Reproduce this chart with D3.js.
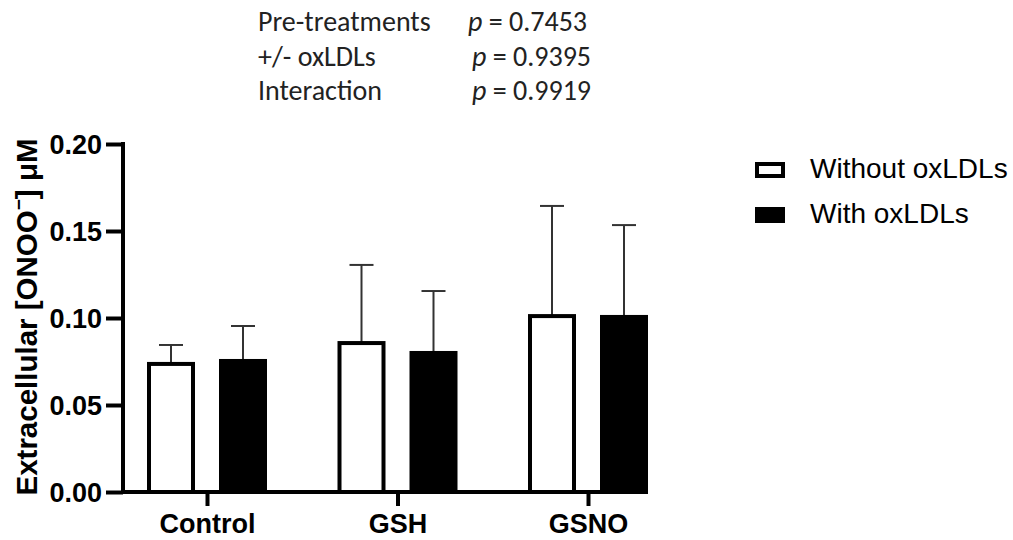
<!DOCTYPE html>
<html>
<head>
<meta charset="utf-8">
<script src="https://cdn.jsdelivr.net/npm/d3@7"></script>
<style>
  body { margin: 0; background: #fff; }
</style>
</head>
<body>
<div id="chart"></div>
<script>
const categories = ["Control", "GSH", "GSNO"]
const seriesNames = ["Without oxLDLs", "With oxLDLs"]
const withoutMeans = [0.0736, 0.0856, 0.1011]
const withoutErr = [0.0845, 0.1305, 0.1644]
const withMeans = [0.0753, 0.0799, 0.1006]
const withErr = [0.0954, 0.1155, 0.1534]
const yTicks = [0.00, 0.05, 0.10, 0.15, 0.20]
const stats = [
  {label: "Pre-treatments", p: "0.7453", px: 468},
  {label: "+/- oxLDLs", p: "0.9395", px: 472},
  {label: "Interaction", p: "0.9919", px: 472}
]

const width = 1013, height = 540
const arial = "Arial, 'Liberation Sans', sans-serif"
const calibri = "Carlito, Calibri, 'Open Sans', sans-serif"
const svg = d3.select("#chart").append("svg").attr("width", width).attr("height", height)

// plot area
const x0 = 123, x1 = 620, yTop = 144, yBot = 492
const y = d3.scaleLinear().domain([0, 0.20]).range([yBot, yTop])
const x = d3.scalePoint().domain(categories).range([207, 588])
const barW = 44, off = 36

const data = []
categories.forEach((c, i) => {
  data.push({cat: c, s: 0, v: withoutMeans[i], e: withoutErr[i]})
  data.push({cat: c, s: 1, v: withMeans[i], e: withErr[i]})
})

// error bars (drawn first so bars sit on top)
const eb = svg.append("g")
data.forEach(d => {
  const cx = x(d.cat) + (d.s === 0 ? -off : off)
  eb.append("line").attr("x1", cx).attr("x2", cx).attr("y1", y(d.v)).attr("y2", y(d.e))
    .attr("stroke", "#333").attr("stroke-width", 2)
  eb.append("line").attr("x1", cx - 12).attr("x2", cx + 12).attr("y1", y(d.e)).attr("y2", y(d.e))
    .attr("stroke", "#333").attr("stroke-width", 2)
})

// bars
svg.append("g").selectAll("rect").data(data).enter().append("rect")
  .attr("x", d => x(d.cat) + (d.s === 0 ? -off : off) - barW / 2)
  .attr("y", d => y(d.v))
  .attr("width", barW)
  .attr("height", d => yBot - y(d.v))
  .attr("fill", d => d.s === 0 ? "#fff" : "#000")
  .attr("stroke", "#000")
  .attr("stroke-width", 4)

// axes
const yAxis = d3.axisLeft(y).tickValues(yTicks).tickFormat(d3.format(".2f")).tickSize(17).tickPadding(4)
const yg = svg.append("g").attr("transform", `translate(${x0},0)`).call(yAxis)
yg.select(".domain").attr("d", `M0,${yTop - 2}V${yBot + 2}`).attr("stroke-width", 4)
yg.selectAll(".tick line").attr("stroke-width", 4)
yg.selectAll(".tick text").attr("font-size", 27).attr("font-weight", "bold").attr("fill", "#000")
  .attr("font-family", arial).attr("dy", "0.34em")

const xAxis = d3.axisBottom(x).tickSize(14).tickPadding(8)
const xg = svg.append("g").attr("transform", `translate(0,${yBot})`).call(xAxis)
xg.select(".domain").attr("d", `M${x0 - 2},0H${x1}`).attr("stroke-width", 4)
xg.selectAll(".tick line").attr("stroke-width", 4)
xg.selectAll(".tick text").attr("font-size", 27).attr("font-weight", "bold").attr("fill", "#000")
  .attr("font-family", arial)

// y title
const yt = svg.append("text")
  .attr("transform", `translate(37,317) rotate(-90)`)
  .attr("text-anchor", "middle")
  .attr("font-family", arial)
  .attr("font-size", 29.5).attr("font-weight", "bold")
yt.append("tspan").text("Extracellular [ONOO")
yt.append("tspan").attr("dy", -12).attr("font-size", 19).text("−")
yt.append("tspan").attr("dy", 12).text("] μM")

// legend
const lg = svg.append("g").attr("transform", "translate(757,0)")
seriesNames.forEach((n, i) => {
  const top = 164 + i * 45
  lg.append("rect").attr("x", 0).attr("y", top).attr("width", 26).attr("height", 12)
    .attr("fill", i === 0 ? "#fff" : "#000").attr("stroke", "#000").attr("stroke-width", 4)
  lg.append("text").attr("x", 53).attr("y", top + 14).attr("font-size", 28)
    .attr("font-family", arial).text(n)
})

// stats text
const st = svg.append("g")
stats.forEach((s, i) => {
  const by = 31 + i * 34.5
  st.append("text").attr("x", 258).attr("y", by).attr("font-size", 28).attr("fill", "#222")
    .attr("font-family", calibri).text(s.label)
  const t = st.append("text").attr("x", s.px).attr("y", by).attr("font-size", 28).attr("fill", "#222")
    .attr("font-family", calibri)
  t.append("tspan").attr("font-style", "italic").text("p")
  t.append("tspan").text(" = " + s.p)
})
</script>
</body>
</html>
